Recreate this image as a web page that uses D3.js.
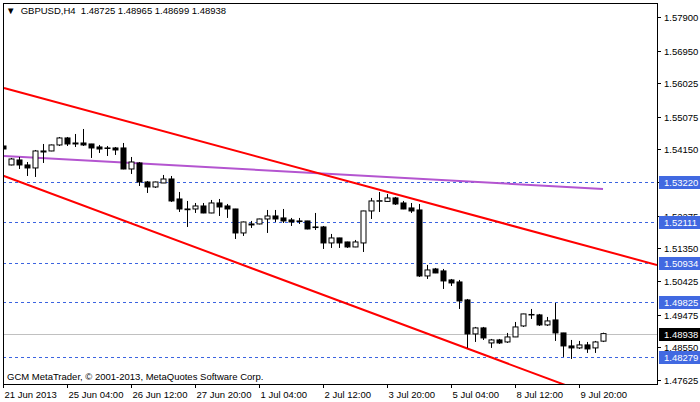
<!DOCTYPE html>
<html><head><meta charset="utf-8">
<script src="https://cdn.jsdelivr.net/npm/d3@7"></script>
<style>body{margin:0;background:#fff}svg{display:block}text{font-family:"Liberation Sans",Arial,sans-serif}</style>
</head><body><svg id="c" width="700" height="402"></svg>
<script>
const opens=[1.54249,1.53712,1.53853,1.53712,1.53627,1.54079,1.54108,1.54278,1.54476,1.54334,1.54334,1.54306,1.54221,1.54193,1.54193,1.54193,1.53598,1.53768,1.53230,1.53089,1.53202,1.53315,1.52749,1.52466,1.52466,1.52551,1.52353,1.52636,1.52551,1.52466,1.51787,1.52042,1.52042,1.52183,1.52268,1.52212,1.52155,1.52127,1.52127,1.51957,1.51957,1.51504,1.51646,1.51532,1.51391,1.51504,1.52410,1.52693,1.52680,1.52778,1.52636,1.52495,1.52438,1.50570,1.50768,1.50712,1.50457,1.50400,1.49891,1.48929,1.49099,1.48674,1.48759,1.48702,1.48844,1.49155,1.49480,1.49467,1.49184,1.49325,1.48957,1.48589,1.48533,1.48618,1.48533,1.48725];
const highs=[1.54532,1.53910,1.53938,1.53796,1.54136,1.54306,1.54290,1.54504,1.54504,1.54589,1.54730,1.54310,1.54278,1.54249,1.54221,1.54334,1.53938,1.53796,1.53259,1.53240,1.53429,1.53400,1.52947,1.52693,1.52636,1.52636,1.52721,1.52749,1.52608,1.52470,1.52110,1.52127,1.52190,1.52438,1.52438,1.52466,1.52212,1.52212,1.52130,1.52353,1.51985,1.51759,1.51650,1.51540,1.51589,1.52415,1.52778,1.52947,1.52891,1.52806,1.52693,1.52636,1.52608,1.50882,1.50797,1.50768,1.50485,1.50457,1.49919,1.49127,1.49127,1.48787,1.48787,1.48957,1.49268,1.49500,1.49636,1.49495,1.49410,1.49806,1.48960,1.48759,1.48731,1.48702,1.48731,1.48965];
const lows=[1.54108,1.53700,1.53598,1.53400,1.53372,1.53768,1.54100,1.54249,1.54249,1.54221,1.54249,1.53910,1.54051,1.53966,1.53995,1.53590,1.53457,1.53117,1.52919,1.53061,1.53200,1.52664,1.52381,1.51957,1.52353,1.52345,1.52345,1.52268,1.52212,1.51617,1.51702,1.51929,1.52030,1.51787,1.52098,1.52070,1.51985,1.52042,1.51890,1.51872,1.51334,1.51363,1.51363,1.51363,1.51385,1.51249,1.52183,1.52381,1.52664,1.52580,1.52460,1.52353,1.50542,1.50485,1.50650,1.50202,1.50287,1.49636,1.48533,1.48702,1.48759,1.48533,1.48646,1.48674,1.48840,1.49127,1.49353,1.49155,1.49155,1.48731,1.48278,1.48221,1.48504,1.48391,1.48391,1.48699];
const closes=[1.54164,1.53881,1.53712,1.53627,1.54108,1.54108,1.54278,1.54476,1.54306,1.54306,1.54278,1.54193,1.54164,1.54185,1.54136,1.53598,1.53796,1.53230,1.53089,1.53230,1.53315,1.52693,1.52466,1.52445,1.52551,1.52353,1.52636,1.52523,1.52466,1.51787,1.52098,1.52014,1.52183,1.52268,1.52183,1.52127,1.52098,1.52110,1.51900,1.51940,1.51504,1.51646,1.51504,1.51391,1.51532,1.52410,1.52693,1.52700,1.52778,1.52608,1.52466,1.52410,1.50570,1.50740,1.50655,1.50429,1.50372,1.49863,1.48929,1.49099,1.48816,1.48759,1.48674,1.48844,1.49127,1.49495,1.49467,1.49184,1.49297,1.48957,1.48589,1.48533,1.48618,1.48504,1.48702,1.48938];
const priceTicks=[1.57900,1.56950,1.56025,1.55075,1.54150,1.53225,1.52275,1.51350,1.50425,1.49475,1.48550,1.47625];
const levels=[1.53220,1.52111,1.50934,1.49825,1.48279];
const lastPrice=1.48938;
const dateIdx=[0,8,16,24,32,40,48,56,64,72];
const dateLabels=["21 Jun 2013","25 Jun 04:00","26 Jun 12:00","27 Jun 20:00","1 Jul 04:00","2 Jul 12:00","3 Jul 20:00","5 Jul 04:00","8 Jul 12:00","9 Jul 20:00"];
const upperLine=[[0.125,1.55890],[81.75,1.50881]];
const lowerLine=[[0.125,1.53400],[61.875,1.48192]];
const maLine=[[0.125,1.53966],[75,1.53032]];

const svg=d3.select("#c");
const L=3,R=657,T=3,B=384;
const x=d3.scaleLinear().domain([0,1]).range([3,11]);
const y=d3.scaleLinear().domain([1.47625,1.57900]).range([380,17]);
svg.append("defs").append("clipPath").attr("id","pc").append("rect").attr("x",L).attr("y",T).attr("width",R-L).attr("height",B-T);
const g=svg.append("g").attr("clip-path","url(#pc)");
levels.forEach(v=>g.append("line").attr("x1",L).attr("x2",R).attr("y1",Math.round(y(v))+.5).attr("y2",Math.round(y(v))+.5).attr("stroke","#3c64e0").attr("stroke-dasharray","3,3"));
g.append("line").attr("x1",L).attr("x2",R).attr("y1",Math.round(y(lastPrice))+.5).attr("y2",Math.round(y(lastPrice))+.5).attr("stroke","#c0c0c0");
const ln=d3.line().x(d=>x(d[0])).y(d=>y(d[1]));
g.append("path").attr("d",ln(maLine)).attr("stroke","#b455d0").attr("stroke-width",2).attr("fill","none");
// extend channel lines across the plot
function ext(l){const s=(l[1][1]-l[0][1])/(l[1][0]-l[0][0]);const a=-1,b=85;return [[a,l[0][1]+s*(a-l[0][0])],[b,l[0][1]+s*(b-l[0][0])]];}
g.append("path").attr("d",ln(upperLine)).attr("stroke","#ff0000").attr("stroke-width",2).attr("fill","none");
g.append("path").attr("d",ln(ext(lowerLine))).attr("stroke","#ff0000").attr("stroke-width",2).attr("fill","none");
opens.forEach((o,i)=>{
  const c=closes[i],cx=Math.round(x(i))+.5;
  g.append("line").attr("x1",cx).attr("x2",cx).attr("y1",y(highs[i])).attr("y2",y(lows[i])).attr("stroke","#000");
  const top=y(Math.max(o,c)),bot=y(Math.min(o,c));
  g.append("rect").attr("x",cx-2.5).attr("y",top).attr("width",5).attr("height",Math.max(bot-top,0.5))
   .attr("fill",c>=o?"#fff":"#000").attr("stroke","#000");
});
svg.append("rect").attr("x",L+.5).attr("y",T+.5).attr("width",R-L).attr("height",B-T).attr("fill","none").attr("stroke","#000");
priceTicks.forEach(v=>{
  const yy=Math.round(y(v))+.5;
  svg.append("line").attr("x1",R).attr("x2",R+4).attr("y1",yy).attr("y2",yy).attr("stroke","#000");
  svg.append("text").attr("x",664).attr("y",yy+3.5).attr("font-size",9.5).attr("fill","#000").text(v.toFixed(5));
});
function tag(v,bg){
  const yy=Math.round(y(v));
  svg.append("rect").attr("x",659).attr("y",yy-6).attr("width",41).attr("height",13).attr("fill",bg);
  svg.append("text").attr("x",664).attr("y",yy+4).attr("font-size",9.5).attr("fill","#fff").text(v.toFixed(5));
}
levels.forEach(v=>tag(v,"#4169e1"));
tag(lastPrice,"#000");
dateIdx.forEach((d,k)=>{
  const xx=Math.round(x(d))+.5;
  svg.append("line").attr("x1",xx).attr("x2",xx).attr("y1",B).attr("y2",B+4).attr("stroke","#000");
  svg.append("text").attr("x",xx+1).attr("y",398).attr("font-size",9.5).attr("fill","#000").text(dateLabels[k]);
});
svg.append("text").attr("x",6).attr("y",14).attr("font-size",9.5).attr("fill","#000").text("\u25BC  GBPUSD,H4  1.48725 1.48965 1.48699 1.48938").attr("xml:space","preserve");
svg.append("text").attr("x",7).attr("y",380).attr("font-size",9.5).attr("fill","#000").text("GCM MetaTrader, \u00A9 2001-2013, MetaQuotes Software Corp.");
</script></body></html>
